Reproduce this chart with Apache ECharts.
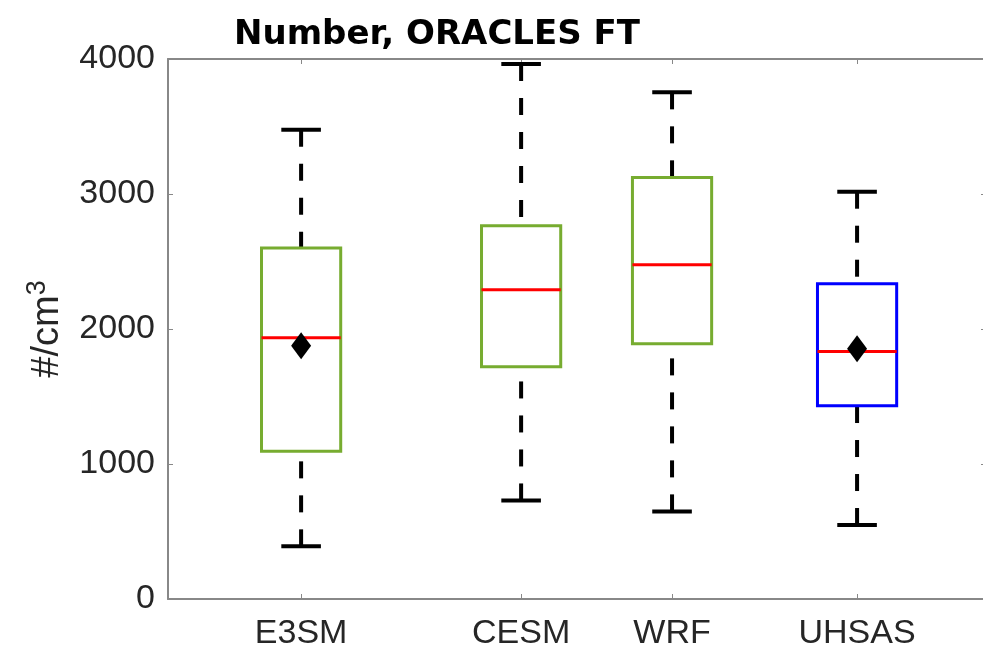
<!DOCTYPE html>
<html>
<head>
<meta charset="utf-8">
<script src="https://cdn.jsdelivr.net/npm/echarts@6/dist/echarts.min.js"></script>
<style>html,body{margin:0;padding:0;background:#fff;}#c{width:983px;height:657px;}</style>
</head>
<body>
<div id="c"></div>
<script>
const categories = ['E3SM', 'CESM', 'WRF', 'UHSAS'];
const positions = [1, 2, 2.686, 3.527];
const whiskerLow = [390, 730, 649, 548];
const q1 = [1095, 1721, 1891, 1432];
const medians = [1935, 2291, 2476, 1834];
const q3 = [2600, 2765, 3123, 2336];
const whiskerHigh = [3476, 3963, 3753, 3017];
const means = [1876, null, null, 1854];
const yTicks = [0, 1000, 2000, 3000, 4000];
const boxColors = ['#77ac30', '#77ac30', '#77ac30', '#0000ff'];

const boxData = categories.map((c, i) => [positions[i], whiskerLow[i], q1[i], medians[i], q3[i], whiskerHigh[i]]);
const meanData = [];
means.forEach((m, i) => { if (m !== null) meanData.push([positions[i], m]); });

function renderItem(params, api) {
  const x = api.value(0);
  const lo = api.coord([x, api.value(1)]);
  const b1 = api.coord([x, api.value(2)]);
  const md = api.coord([x, api.value(3)]);
  const b3 = api.coord([x, api.value(4)]);
  const hi = api.coord([x, api.value(5)]);
  const boxW = api.size([0.36, 0])[0];
  const capW = api.size([0.18, 0])[0];
  const color = boxColors[params.dataIndex];
  const dash = { stroke: '#000', lineWidth: 4, lineDash: [17, 17] };
  const solid = { stroke: '#000', lineWidth: 4 };
  return {
    type: 'group',
    children: [
      { type: 'line', shape: { x1: hi[0], y1: hi[1], x2: b3[0], y2: b3[1] }, style: dash },
      { type: 'line', shape: { x1: lo[0], y1: lo[1], x2: b1[0], y2: b1[1] }, style: dash },
      { type: 'line', shape: { x1: hi[0] - capW / 2, y1: hi[1], x2: hi[0] + capW / 2, y2: hi[1] }, style: solid },
      { type: 'line', shape: { x1: lo[0] - capW / 2, y1: lo[1], x2: lo[0] + capW / 2, y2: lo[1] }, style: solid },
      { type: 'rect', shape: { x: b3[0] - boxW / 2, y: b3[1], width: boxW, height: b1[1] - b3[1] },
        style: { fill: 'none', stroke: color, lineWidth: 3 } },
      { type: 'line', shape: { x1: md[0] - boxW / 2, y1: md[1], x2: md[0] + boxW / 2, y2: md[1] },
        style: { stroke: '#ff0000', lineWidth: 3 } }
    ]
  };
}

const axisColor = '#888888';
const labelColor = '#262626';
const font = 'Liberation Sans, Arial, sans-serif';

function nameAt(v) {
  for (let i = 0; i < positions.length; i++) {
    if (Math.abs(positions[i] - v) < 1e-6) return categories[i];
  }
  return '';
}

const chart = echarts.init(document.getElementById('c'));
chart.setOption({
  animation: false,
  backgroundColor: '#fff',
  title: {
    text: 'Number, ORACLES FT',
    left: 229, top: 13,
    textStyle: { fontFamily: 'DejaVu Sans', fontWeight: 'bold', fontSize: 34, color: '#000' }
  },
  grid: { left: 168, right: -3, top: 59, bottom: 58, outerBoundsMode: 'none' },
  xAxis: [
    {
      type: 'value', min: 0.395, max: 4.113, position: 'bottom',
      splitLine: { show: false },
      axisLine: { show: true, onZero: false, lineStyle: { color: axisColor, width: 2 } },
      axisTick: { show: true, inside: true, length: 5, customValues: positions, lineStyle: { color: axisColor } },
      axisLabel: { customValues: positions, formatter: nameAt, fontSize: 34, color: labelColor, fontFamily: font, margin: 18 }
    },
    {
      type: 'value', min: 0.395, max: 4.113, position: 'top',
      splitLine: { show: false },
      axisLine: { show: true, onZero: false, lineStyle: { color: axisColor, width: 2 } },
      axisTick: { show: true, inside: true, length: 5, customValues: positions, lineStyle: { color: axisColor } },
      axisLabel: { show: false }
    }
  ],
  yAxis: [
    {
      type: 'value', min: yTicks[0], max: yTicks[yTicks.length - 1], interval: 1000, position: 'left',
      splitLine: { show: false },
      axisLine: { show: true, onZero: false, lineStyle: { color: axisColor, width: 2 } },
      axisTick: { show: true, inside: true, length: 5, lineStyle: { color: axisColor } },
      axisLabel: { fontSize: 34, color: labelColor, fontFamily: font, margin: 13, formatter: v => String(v) },
      name: '{a|#/cm}{s|3}',
      nameLocation: 'middle', nameRotate: 90, nameGap: 96,
      nameTextStyle: {
        fontSize: 38, fontFamily: font, color: labelColor,
        rich: {
          a: { fontSize: 38, fontFamily: font, color: labelColor, lineHeight: 48 },
          s: { fontSize: 27, fontFamily: font, color: labelColor, verticalAlign: 'top', lineHeight: 48 }
        }
      }
    },
    {
      type: 'value', min: yTicks[0], max: yTicks[yTicks.length - 1], interval: 1000, position: 'right',
      splitLine: { show: false },
      axisLine: { show: true, onZero: false, lineStyle: { color: axisColor, width: 2 } },
      axisTick: { show: true, inside: true, length: 5, lineStyle: { color: axisColor } },
      axisLabel: { show: false }
    }
  ],
  series: [
    { type: 'custom', name: 'box', renderItem: renderItem, data: boxData, xAxisIndex: 0, yAxisIndex: 0, encode: { x: 0, y: [1, 2, 3, 4, 5] }, z: 2 },
    { type: 'scatter', name: 'mean', data: meanData, symbol: 'diamond', symbolSize: [20, 27], itemStyle: { color: '#000', opacity: 1 }, z: 3 }
  ]
});
</script>
</body>
</html>
